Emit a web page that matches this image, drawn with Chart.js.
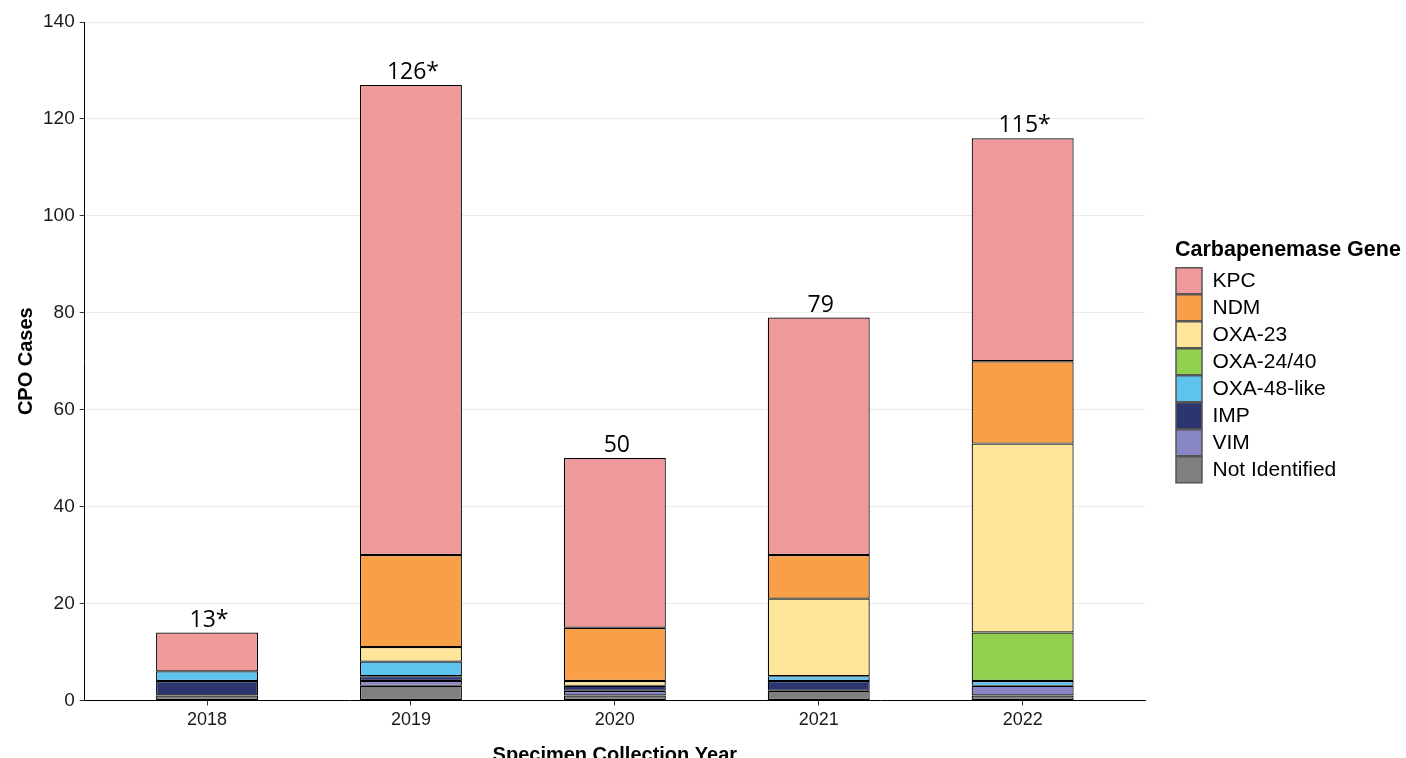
<!DOCTYPE html>
<html>
<head>
<meta charset="utf-8">
<script src="https://cdn.jsdelivr.net/npm/chart.js@4.4.1/dist/chart.umd.min.js"></script>
<style>
  html, body { margin: 0; padding: 0; background: #fff; overflow: hidden; }
  #wrap { width: 1406px; height: 767px; position: relative; }
</style>
</head>
<body>
<div id="wrap"><canvas id="chart1"></canvas></div>
<script>
// Datos del gráfico
const years = ['2018', '2019', '2020', '2021', '2022'];
const totalLabels = ['13*', '126*', '50', '79', '115*'];

// series, de abajo hacia arriba en la pila
const notIdentified = [1, 3, 1, 2, 1];
const vim = [0, 1, 1, 0, 2];
const imp = [3, 1, 1, 2, 0];
const oxa48 = [2, 3, 0, 1, 1];
const oxa2440 = [0, 0, 0, 0, 10];
const oxa23 = [0, 3, 1, 16, 39];
const ndm = [0, 19, 11, 9, 17];
const kpc = [8, 97, 35, 49, 46];

const yTicks = [0, 20, 40, 60, 80, 100, 120, 140];

const series = [
  { label: 'Not Identified', data: notIdentified, color: '#7f7f7f' },
  { label: 'VIM', data: vim, color: '#8886c4' },
  { label: 'IMP', data: imp, color: '#2b3570' },
  { label: 'OXA-48-like', data: oxa48, color: '#5fc3ef' },
  { label: 'OXA-24/40', data: oxa2440, color: '#92d050' },
  { label: 'OXA-23', data: oxa23, color: '#ffe599' },
  { label: 'NDM', data: ndm, color: '#f99f48' },
  { label: 'KPC', data: kpc, color: '#f0999b' },
];

const datasets = series.map(s => ({
  label: s.label,
  data: s.data.map((v, i) => ({ x: i + 1, y: v })),
  backgroundColor: s.color,
  borderColor: '#000',
  borderWidth: 1.2,
  borderSkipped: false,
  barPercentage: 0.5,
  categoryPercentage: 1,
}));

// etiquetas de totales encima de cada barra
const totalsPlugin = {
  id: 'totals',
  afterDatasetsDraw(chart) {
    const ctx = chart.ctx;
    const top = chart.getDatasetMeta(chart.data.datasets.length - 1).data;
    ctx.save();
    ctx.font = '23px "Open Sans"';
    ctx.fillStyle = '#000';
    ctx.textAlign = 'center';
    ctx.textBaseline = 'bottom';
    top.forEach((el, i) => {
      ctx.fillText(totalLabels[i], el.x + 2, el.y - 1);
    });
    ctx.restore();
  }
};

// ancho fijo para la leyenda (el título es más ancho que las etiquetas)
const legendWidthPlugin = {
  id: 'legendWidth',
  afterInit(chart) {
    const lg = chart.legend;
    if (!lg) return;
    const fit = lg.fit.bind(lg);
    lg.fit = function () { fit(); this.width = 231; };
  }
};

const config1 = {
  type: 'bar',
  data: { datasets },
  plugins: [totalsPlugin, legendWidthPlugin],
  options: {
    responsive: true,
    maintainAspectRatio: false,
    animation: false,
    layout: { padding: { top: 22, left: 14, right: 0, bottom: 0 } },
    plugins: {
      tooltip: { enabled: false },
      legend: {
        position: 'right',
        align: 'start',
        reverse: true,
        title: {
          display: true,
          text: 'Carbapenemase Gene',
          position: 'start',
          color: '#000',
          font: { family: 'Liberation Sans', size: 21.5, weight: 'bold' },
          padding: { top: 217, bottom: 2 },
        },
        labels: {
          boxWidth: 26,
          boxHeight: 26,
          padding: 1,
          color: '#1a1a1a',
          font: { family: 'Liberation Sans', size: 21 },
          generateLabels(chart) {
            return chart.data.datasets.map((d, i) => ({
              text: d.label,
              fillStyle: d.backgroundColor,
              strokeStyle: '#555',
              lineWidth: 1.5,
              datasetIndex: i,
              hidden: false,
            }));
          },
        },
      },
    },
    scales: {
      x: {
        type: 'linear',
        stacked: true,
        offset: false,
        min: 0.4,
        max: 5.6,
        afterBuildTicks(scale) {
          scale.ticks = years.map((_, i) => ({ value: i + 1 }));
        },
        ticks: {
          callback: v => years[v - 1],
          color: '#1a1a1a',
          font: { family: 'Liberation Sans', size: 18 },
          padding: 4,
          maxRotation: 0,
        },
        grid: { offset: false, drawOnChartArea: false, tickLength: 5, tickColor: '#333' },
        border: { color: '#000', width: 1 },
        title: {
          display: true,
          text: 'Specimen Collection Year',
          color: '#000',
          font: { family: 'Liberation Sans', size: 20, weight: 'bold' },
          padding: { top: 8, bottom: 0 },
        },
      },
      y: {
        stacked: true,
        min: 0,
        max: 140,
        afterBuildTicks(scale) {
          scale.ticks = yTicks.map(v => ({ value: v }));
        },
        ticks: {
          color: '#1a1a1a',
          font: { family: 'Liberation Sans', size: 19 },
          padding: 5,
        },
        grid: { color: '#ebebeb', tickLength: 5, tickColor: '#333' },
        border: { color: '#000', width: 1 },
        title: {
          display: true,
          text: 'CPO Cases',
          color: '#000',
          font: { family: 'Liberation Sans', size: 20, weight: 'bold' },
          padding: { top: 0, bottom: 0 },
        },
      },
      // espacio entre el área del gráfico y la leyenda
      gap: {
        position: 'right',
        display: true,
        ticks: { display: false },
        grid: { display: false },
        border: { display: false },
        afterFit(scale) { scale.width = 30; },
      },
    },
  },
};

new Chart(document.getElementById('chart1'), config1);
</script>
</body>
</html>
